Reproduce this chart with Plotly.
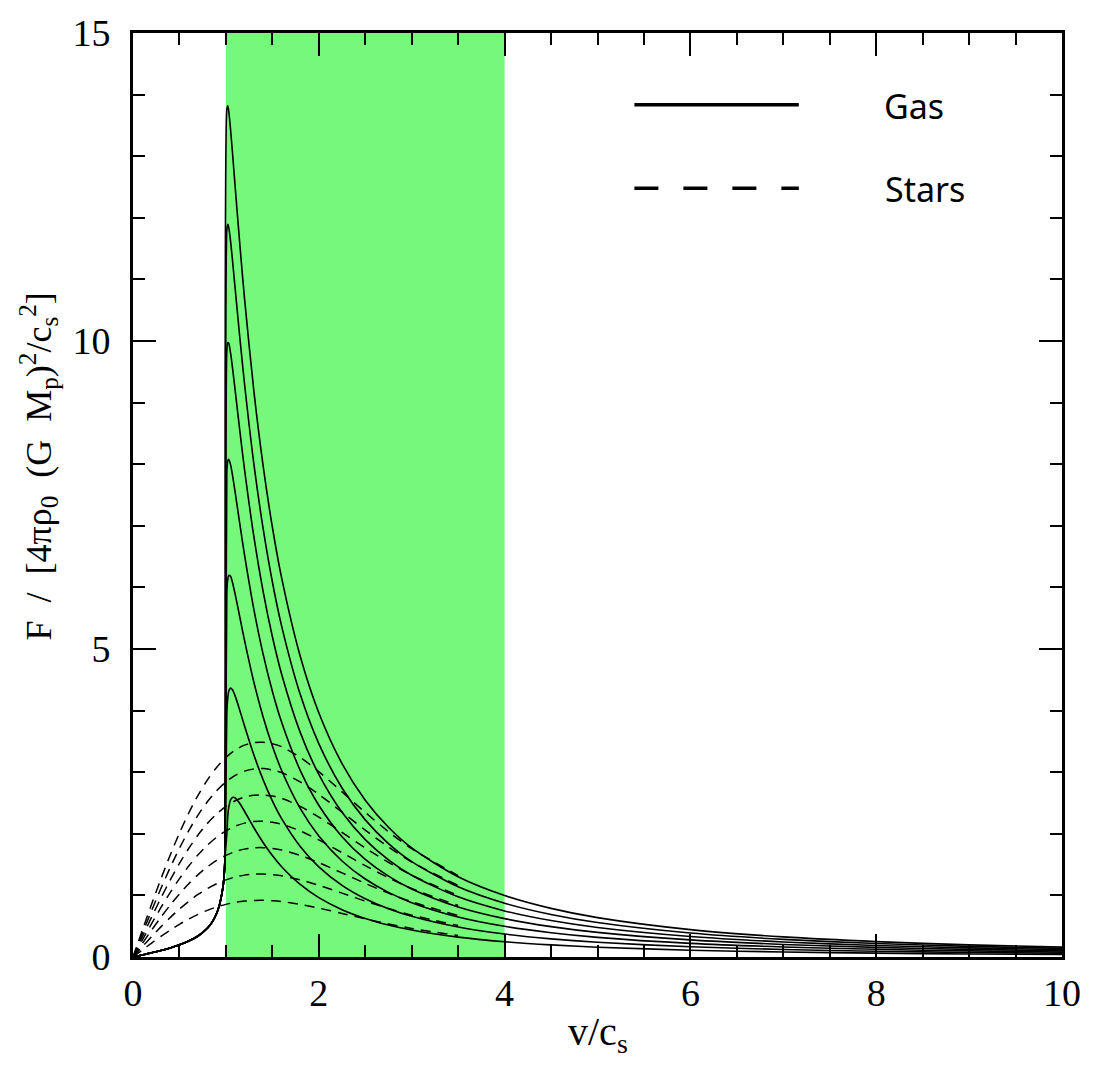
import plotly.graph_objects as go

# ---------------- data ----------------
# Gas: shared subsonic branch (v/c_s < 1)
gas_sub_v = [0, 0.1, 0.2, 0.3, 0.4, 0.5, 0.6, 0.7, 0.8, 0.85, 0.9, 0.93, 0.95, 0.97, 0.98, 0.99]
gas_sub_F = [0, 0.0335, 0.0683, 0.1058, 0.1478, 0.1972, 0.2587, 0.3414, 0.4666, 0.5622,
             0.7064, 0.8421, 0.9771, 1.15, 1.30, 1.60]

# Gas: supersonic branch, one curve per value of ln(Vt/r_min)
gas_sup_v = [1.01, 1.02, 1.03, 1.05, 1.07, 1.1, 1.15, 1.2, 1.3, 1.4, 1.5, 1.6, 1.8, 2.0,
             2.25, 2.5, 2.75, 3.0, 3.5, 4, 4.5, 5, 6, 7, 8, 9, 10]
gas_L04 = [1.9964, 2.2835, 2.4236, 2.5508, 2.5910, 2.5821, 2.4910, 2.3661, 2.1018, 1.8587, 1.6472,
           1.4658, 1.1776, 0.9640, 0.7684, 0.6261, 0.5195, 0.4379, 0.3231, 0.2480, 0.1963, 0.1592,
           0.1107, 0.0814, 0.0624, 0.0493, 0.0400]
gas_L06 = [3.9570, 4.2058, 4.3088, 4.3649, 4.3379, 4.2350, 4.0033, 3.7550, 3.2853, 2.8791, 2.5360,
           2.2470, 1.7949, 1.4640, 1.1635, 0.9461, 0.7840, 0.6601, 0.4863, 0.3730, 0.2950, 0.2392,
           0.1663, 0.1222, 0.0936, 0.0740, 0.0599]
gas_L08 = [5.9176, 6.1282, 6.1940, 6.1789, 6.0848, 5.8879, 5.5156, 5.1439, 4.4687, 3.8996, 3.4249,
           3.0283, 2.4122, 1.9640, 1.5585, 1.2661, 1.0485, 0.8823, 0.6496, 0.4980, 0.3938, 0.3192,
           0.2218, 0.1631, 0.1249, 0.0987, 0.0799]
gas_L10 = [7.8782, 8.0505, 8.0792, 7.9930, 7.8317, 7.5408, 7.0279, 6.5328, 5.6521, 4.9200, 4.3138,
           3.8095, 3.0295, 2.4640, 1.9536, 1.5861, 1.3129, 1.1046, 0.8129, 0.6230, 0.4926, 0.3992,
           0.2774, 0.2039, 0.1561, 0.1234, 0.0999]
gas_L12 = [9.8388, 9.9728, 9.9644, 9.8070, 9.5786, 9.1937, 8.5402, 7.9217, 6.8356, 5.9404, 5.2027,
           4.5908, 3.6467, 2.9640, 2.3486, 1.9061, 1.5774, 1.3268, 0.9761, 0.7480, 0.5913, 0.4792,
           0.3329, 0.2447, 0.1874, 0.1481, 0.1199]
gas_L14 = [11.7994, 11.8952, 11.8495, 11.6211, 11.3254, 10.8466, 10.0525, 9.3106, 8.0190, 6.9608,
           6.0916, 5.3720, 4.2640, 3.4640, 2.7437, 2.2261, 1.8419, 1.5490, 1.1394, 0.8730, 0.6901,
           0.5592, 0.3885, 0.2855, 0.2186, 0.1728, 0.1399]
gas_L16 = [13.7600, 13.8175, 13.7347, 13.4352, 13.0723, 12.4995, 11.5648, 10.6994, 9.2024, 7.9812,
           6.9805, 6.1533, 4.8813, 3.9640, 3.1388, 2.5461, 2.1063, 1.7712, 1.3026, 0.9980, 0.7889,
           0.6392, 0.4441, 0.3263, 0.2499, 0.1975, 0.1599]

# Stars (collisionless); beyond ~3.5 they merge with the gas curves
star_v = [0, 0.1, 0.2, 0.3, 0.4, 0.5, 0.6, 0.7, 0.8, 0.9, 1.0, 1.1, 1.2, 1.3, 1.4, 1.5, 1.6, 1.8,
          2.0, 2.25, 2.5, 2.75, 3.0, 3.5]
star_1 = [0, 0.1140, 0.2260, 0.3340, 0.4361, 0.5308, 0.6165, 0.6926, 0.7577, 0.8118, 0.8546, 0.8866,
          0.9072, 0.9181, 0.9198, 0.9132, 0.9005, 0.8546, 0.7939, 0.7073, 0.6192, 0.5368, 0.4638,
          0.3487]
star_2 = [0, 0.1671, 0.3311, 0.4893, 0.6390, 0.7777, 0.9033, 1.0147, 1.1101, 1.1894, 1.2521, 1.2990,
          1.3292, 1.3451, 1.3476, 1.3379, 1.3194, 1.2521, 1.1632, 1.0363, 0.9071, 0.7864, 0.6795,
          0.5109]
star_3 = [0, 0.2201, 0.4362, 0.6446, 0.8418, 1.0245, 1.1901, 1.3368, 1.4625, 1.5670, 1.6496, 1.7114,
          1.7511, 1.7721, 1.7754, 1.7627, 1.7382, 1.6495, 1.5324, 1.3653, 1.1951, 1.0361, 0.8952,
          0.6731]
star_4 = [0, 0.2731, 0.5414, 0.8000, 1.0446, 1.2714, 1.4768, 1.6589, 1.8150, 1.9445, 2.0471, 2.1238,
          2.1731, 2.1992, 2.2032, 2.1874, 2.1570, 2.0470, 1.9017, 1.6943, 1.4831, 1.2858, 1.1110,
          0.8353]
star_5 = [0, 0.3262, 0.6465, 0.9553, 1.2475, 1.5183, 1.7636, 1.9810, 2.1674, 2.3221, 2.4446, 2.5361,
          2.5951, 2.6262, 2.6310, 2.6122, 2.5759, 2.4445, 2.2710, 2.0232, 1.7711, 1.5354, 1.3267,
          0.9975]
star_6 = [0, 0.3792, 0.7516, 1.1107, 1.4503, 1.7652, 2.0503, 2.3032, 2.5198, 2.6997, 2.8421, 2.9485,
          3.0170, 3.0532, 3.0588, 3.0369, 2.9947, 2.8420, 2.6402, 2.3522, 2.0591, 1.7851, 1.5424,
          1.1597]
star_7 = [0, 0.4322, 0.8567, 1.2660, 1.6532, 2.0120, 2.3371, 2.6253, 2.8722, 3.0773, 3.2396, 3.3609,
          3.4390, 3.4802, 3.4866, 3.4616, 3.4136, 3.2395, 3.0095, 2.6812, 2.3470, 2.0347, 1.7581,
          1.3219]

# Legend / labels
legend_labels = ["Gas", "Stars"]
x_tick_vals = [0, 2, 4, 6, 8, 10]
y_tick_vals = [0, 5, 10, 15]
shade_range = [1, 4]

gas_curves = [gas_L04, gas_L06, gas_L08, gas_L10, gas_L12, gas_L14, gas_L16]
star_curves = [star_1, star_2, star_3, star_4, star_5, star_6, star_7]

# ---------------- figure ----------------
fig = go.Figure()

for sup in gas_curves:
    fig.add_trace(go.Scatter(
        x=gas_sub_v + gas_sup_v, y=gas_sub_F + sup, mode="lines",
        line=dict(color="black", width=1.6, shape="spline", smoothing=0.8),
        showlegend=False, hoverinfo="skip"))

for st in star_curves:
    fig.add_trace(go.Scatter(
        x=star_v, y=st, mode="lines",
        line=dict(color="black", width=1.5, dash="10px,7px", shape="spline", smoothing=0.8),
        showlegend=False, hoverinfo="skip"))

# green shaded band
fig.add_shape(type="rect", xref="x", yref="paper", x0=shade_range[0], x1=shade_range[1],
              y0=0, y1=1, fillcolor="rgb(118,249,122)", line=dict(width=0), layer="below")

# legend keys
fig.add_shape(type="line", xref="paper", yref="paper", x0=0.5397, x1=0.7167, y0=0.9223, y1=0.9223,
              line=dict(color="black", width=3.5))
fig.add_shape(type="line", xref="paper", yref="paper", x0=0.5397, x1=0.7167, y0=0.8319, y1=0.8319,
              line=dict(color="black", width=3.5, dash="24px,25px"))
legend_font = dict(family="Noto Sans", size=34, color="black")
fig.add_annotation(text=legend_labels[0], xref="paper", yref="paper", x=0.8409, y=0.9215,
                   xanchor="center", yanchor="middle", showarrow=False, font=legend_font)
fig.add_annotation(text=legend_labels[1], xref="paper", yref="paper", x=0.8528, y=0.8317,
                   xanchor="center", yanchor="middle", showarrow=False, font=legend_font)

# axis titles
fig.add_annotation(text="v/c<sub>s</sub>", xref="paper", yref="paper", x=0.501, y=-0.1129,
                   xanchor="center", yanchor="bottom", showarrow=False,
                   font=dict(family="Liberation Serif", size=40, color="black"))
fig.add_annotation(
    text="F&nbsp;&nbsp;/&nbsp;&nbsp;[4πρ<sub>0</sub>&nbsp;&nbsp;(G&nbsp;&nbsp;M<sub>p</sub>)<sup>2</sup>/c<sub>s</sub><sup>2</sup>]",
    xref="paper", yref="paper", x=-0.101, y=0.531, textangle=-90,
    xanchor="center", yanchor="middle", showarrow=False,
    font=dict(family="Liberation Serif", size=36, color="black"))

axis_common = dict(
    showline=True, linecolor="black", linewidth=3, mirror="ticks",
    ticks="inside", tickwidth=2, tickcolor="black",
    showgrid=False, zeroline=False,
    tickfont=dict(family="Liberation Serif", size=38, color="black"),
)
fig.update_xaxes(range=[0, 10], tickvals=x_tick_vals, ticklen=23, ticklabelstandoff=0,
                 minor=dict(dtick=0.5, ticks="inside", ticklen=12, tickwidth=2, tickcolor="black",
                            showgrid=False),
                 **axis_common)
fig.update_yaxes(range=[0, 15], tickvals=y_tick_vals, ticklen=23, ticklabelstandoff=12,
                 minor=dict(dtick=1, ticks="inside", ticklen=12, tickwidth=2, tickcolor="black",
                            showgrid=False),
                 **axis_common)

fig.update_layout(
    width=1093, height=1065,
    margin=dict(l=133, r=28, t=27, b=108),
    paper_bgcolor="white", plot_bgcolor="white",
    showlegend=False,
)

fig.write_html("out.html")
